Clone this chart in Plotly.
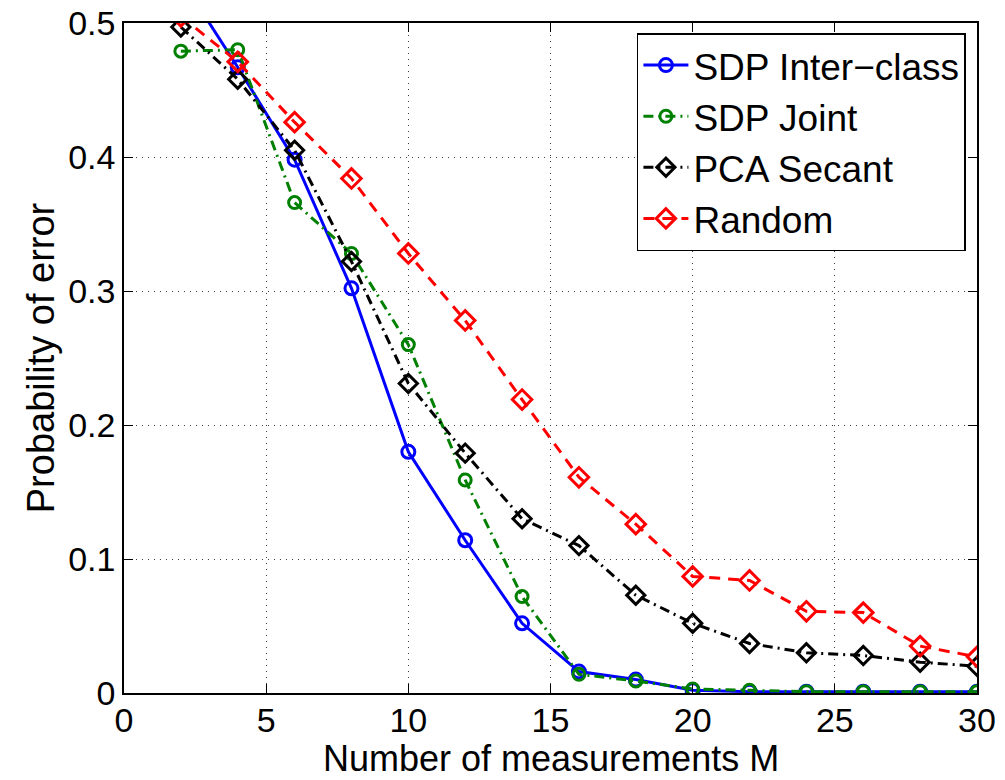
import plotly.graph_objects as go

# Number of measurements M
m_values = [2, 4, 6, 8, 10, 12, 14, 16, 18, 20, 22, 24, 26, 28, 30]

# Probability of error for each projection design
sdp_interclass = [0.533, 0.467, 0.398, 0.302, 0.180, 0.114, 0.052, 0.016, 0.010, 0.002, 0.001, 0.001, 0.001, 0.001, 0.001]
sdp_joint = [0.479, 0.480, 0.366, 0.328, 0.260, 0.159, 0.072, 0.014, 0.009, 0.003, 0.002, 0.001, 0.001, 0.001, 0.001]
pca_secant = [0.497, 0.458, 0.405, 0.322, 0.231, 0.179, 0.130, 0.110, 0.073, 0.052, 0.037, 0.030, 0.028, 0.023, 0.020]
random_proj = [0.505, 0.471, 0.426, 0.384, 0.328, 0.278, 0.219, 0.161, 0.126, 0.087, 0.084, 0.061, 0.060, 0.035, 0.027]

series_names = ["SDP Inter\u2212class", "SDP Joint", "PCA Secant", "Random"]

x_ticks = [0, 5, 10, 15, 20, 25, 30]
y_ticks = [0, 0.1, 0.2, 0.3, 0.4, 0.5]
y_tick_labels = ["0", "0.1", "0.2", "0.3", "0.4", "0.5"]

x_title = "Number of measurements M"
y_title = "Probability of error"

FONT = "Liberation Sans, Arial, Helvetica, sans-serif"

styles = [
    dict(color="#0000ff", dash="solid", symbol="circle-open", size=13),
    dict(color="#008000", dash="10px,5px,2px,5px", symbol="circle-open", size=12),
    dict(color="#000000", dash="10px,5px,2px,5px", symbol="diamond-open", size=14),
    dict(color="#ff0000", dash="11px,8px", symbol="diamond-open", size=15),
]

fig = go.Figure()
for name, values, st in zip(series_names, [sdp_interclass, sdp_joint, pca_secant, random_proj], styles):
    fig.add_trace(go.Scatter(
        x=m_values, y=values, name=name, mode="lines+markers",
        line=dict(color=st["color"], width=3, dash=st["dash"]),
        marker=dict(symbol=st["symbol"], size=st["size"], color=st["color"],
                    line=dict(color=st["color"], width=3)),
    ))

axis_common = dict(
    showline=True, linecolor="black", linewidth=1.5, mirror="ticks",
    ticks="inside", ticklen=9, tickwidth=1, tickcolor="black",
    showgrid=True, gridcolor="#404040", griddash="1px,5px", gridwidth=1,
    zeroline=False, automargin=False,
    tickfont=dict(family=FONT, size=34, color="black"),
)

fig.update_layout(
    width=1005, height=780,
    margin=dict(l=124, r=28, t=23, b=87),
    paper_bgcolor="white", plot_bgcolor="white",
    font=dict(family=FONT, color="black"),
    xaxis=dict(range=[0, 30], tickvals=x_ticks, ticklabelstandoff=-4, **axis_common),
    yaxis=dict(
        range=[0, 0.5], tickvals=y_ticks, ticktext=y_tick_labels,
        title=dict(text=y_title, font=dict(family=FONT, size=38), standoff=2),
        **axis_common,
    ),
    legend=dict(
        x=0.987, y=0.985, xanchor="right", yanchor="top",
        bgcolor="white", bordercolor="black", borderwidth=1.5,
        font=dict(family=FONT, size=37, color="black"),
        itemwidth=45, tracegroupgap=0,
    ),
)

# x-axis title placed just below the tick labels
fig.add_annotation(
    text=x_title, xref="paper", yref="paper", x=0.5, y=-0.131,
    xanchor="center", yanchor="bottom", showarrow=False,
    font=dict(family=FONT, size=36, color="black"),
)

fig.write_html("out.html")
